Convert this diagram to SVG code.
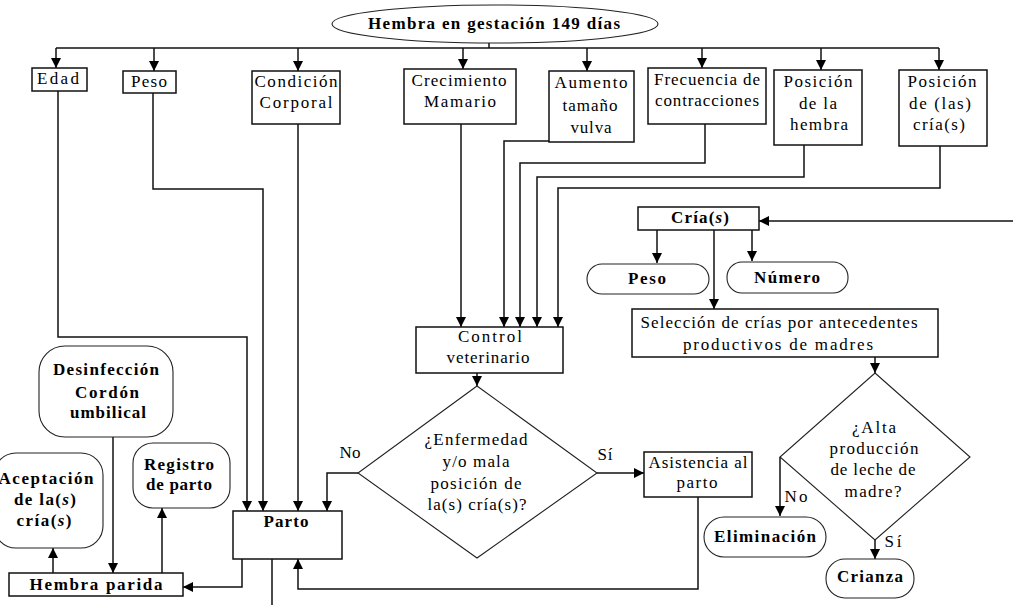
<svg xmlns="http://www.w3.org/2000/svg" width="1013" height="605" viewBox="0 0 1013 605">
  <style>
    .box { fill: #fff; stroke: #111; stroke-width: 1.5; }
    .term { fill: #fff; stroke: #222; stroke-width: 1.1; }
    .dia { fill: #fff; stroke: #222; stroke-width: 1.1; }
    .wire { fill: none; stroke: #111; stroke-width: 1.5; }
    .t { font-family: "Liberation Serif", "Times New Roman", serif; font-size: 17px; text-anchor: middle; fill: #000; }
    .b { font-weight: bold; }
    .i { font-style: italic; }
  </style>
  <defs>
    <marker id="arrow" viewBox="0 0 10 10" refX="10" refY="5" markerWidth="10" markerHeight="10" markerUnits="userSpaceOnUse" orient="auto">
      <path d="M0,0 L10,5 L0,10 z" fill="#000"/>
    </marker>
  </defs>
  <rect width="1013" height="605" fill="#fff"/>

  <!-- connectors -->
  <g id="connectors" class="wire">
    <path d="M489,43 V48"/>
    <path d="M56,48 H939"/>
    <path d="M56,48 V68" marker-end="url(#arrow)"/>
    <path d="M154,48 V71" marker-end="url(#arrow)"/>
    <path d="M298,48 V71" marker-end="url(#arrow)"/>
    <path d="M463,48 V69" marker-end="url(#arrow)"/>
    <path d="M587,48 V71" marker-end="url(#arrow)"/>
    <path d="M702,48 V68" marker-end="url(#arrow)"/>
    <path d="M821,48 V70" marker-end="url(#arrow)"/>
    <path d="M939,48 V70" marker-end="url(#arrow)"/>

    <path d="M58,91 V337 H247 V511" marker-end="url(#arrow)"/>
    <path d="M153,93 V189 H263 V511" marker-end="url(#arrow)"/>
    <path d="M298,124 V511" marker-end="url(#arrow)"/>

    <path d="M461,124 V327" marker-end="url(#arrow)"/>
    <path d="M549,141 H504 V327" marker-end="url(#arrow)"/>
    <path d="M705,124 V163 H520 V327" marker-end="url(#arrow)"/>
    <path d="M804,145 V177 H537 V327" marker-end="url(#arrow)"/>
    <path d="M940,146 V188 H558 V327" marker-end="url(#arrow)"/>

    <path d="M477,373 V386" marker-end="url(#arrow)"/>
    <path d="M358,473 H327 V511" marker-end="url(#arrow)"/>
    <path d="M597,473 H644" marker-end="url(#arrow)"/>
    <path d="M698,497 V589 H298 V559" marker-end="url(#arrow)"/>

    <path d="M242,559 V587 H183" marker-end="url(#arrow)"/>
    <path d="M272,559 V605"/>
    <path d="M113,437 V573" marker-end="url(#arrow)"/>
    <path d="M162,573 V508" marker-end="url(#arrow)"/>
    <path d="M53,573 V548" marker-end="url(#arrow)"/>

    <path d="M1013,221 H759" marker-end="url(#arrow)"/>
    <path d="M657,230 V263" marker-end="url(#arrow)"/>
    <path d="M752,230 V261" marker-end="url(#arrow)"/>
    <path d="M714,230 V309" marker-end="url(#arrow)"/>
    <path d="M875,357 V373" marker-end="url(#arrow)"/>
    <path d="M780,457 V516" marker-end="url(#arrow)"/>
    <path d="M875,540 V559" marker-end="url(#arrow)"/>
  </g>

  <!-- top start node -->
  <g id="hembra-gestacion">
    <ellipse class="term" cx="495" cy="24" rx="163" ry="19"/>
    <text class="t b" x="494" y="29" textLength="252" lengthAdjust="spacing">Hembra en gestación 149 días</text>
  </g>

  <!-- observation boxes -->
  <g id="edad">
    <rect class="box" x="32" y="68" width="55" height="23"/>
    <text class="t" x="58" y="84" textLength="42" lengthAdjust="spacing">Edad</text>
  </g>
  <g id="peso">
    <rect class="box" x="123" y="71" width="53" height="22"/>
    <text class="t" x="149" y="87" textLength="36" lengthAdjust="spacing">Peso</text>
  </g>
  <g id="condicion">
    <rect class="box" x="252" y="71" width="88" height="53"/>
    <text class="t" x="296" y="87" textLength="83" lengthAdjust="spacing">Condición</text>
    <text class="t" x="296" y="108" textLength="73" lengthAdjust="spacing">Corporal</text>
  </g>
  <g id="crecimiento">
    <rect class="box" x="404" y="69" width="112" height="55"/>
    <text class="t" x="459" y="86" textLength="95" lengthAdjust="spacing">Crecimiento</text>
    <text class="t" x="460" y="107" textLength="72" lengthAdjust="spacing">Mamario</text>
  </g>
  <g id="aumento">
    <rect class="box" x="549" y="71" width="85" height="71"/>
    <text class="t" x="591" y="88" textLength="73" lengthAdjust="spacing">Aumento</text>
    <text class="t" x="590" y="111" textLength="55" lengthAdjust="spacing">tamaño</text>
    <text class="t" x="591" y="133" textLength="41" lengthAdjust="spacing">vulva</text>
  </g>
  <g id="frecuencia">
    <rect class="box" x="648" y="68" width="118" height="56"/>
    <text class="t" x="707" y="85" textLength="106" lengthAdjust="spacing">Frecuencia de</text>
    <text class="t" x="707" y="106" textLength="104" lengthAdjust="spacing">contracciones</text>
  </g>
  <g id="posicion-hembra">
    <rect class="box" x="774" y="70" width="88" height="75"/>
    <text class="t" x="818" y="87" textLength="69" lengthAdjust="spacing">Posición</text>
    <text class="t" x="818" y="109" textLength="38" lengthAdjust="spacing">de la</text>
    <text class="t" x="819" y="130" textLength="58" lengthAdjust="spacing">hembra</text>
  </g>
  <g id="posicion-crias">
    <rect class="box" x="899" y="70" width="88" height="76"/>
    <text class="t" x="942" y="87" textLength="69" lengthAdjust="spacing">Posición</text>
    <text class="t" x="940" y="109" textLength="62" lengthAdjust="spacing">de (las)</text>
    <text class="t" x="939" y="130" textLength="52" lengthAdjust="spacing">cría(s)</text>
  </g>

  <!-- veterinary control and decision -->
  <g id="control">
    <rect class="box" x="416" y="327" width="147" height="46"/>
    <text class="t" x="490" y="342" textLength="64" lengthAdjust="spacing">Control</text>
    <text class="t" x="488" y="363" textLength="83" lengthAdjust="spacing">veterinario</text>
  </g>
  <g id="enfermedad">
    <polygon class="dia" points="477,386 597,473 477,558 358,473"/>
    <text class="t" x="476" y="445" textLength="103" lengthAdjust="spacing">¿Enfermedad</text>
    <text class="t" x="476" y="467" textLength="67" lengthAdjust="spacing">y/o mala</text>
    <text class="t" x="476" y="489" textLength="91" lengthAdjust="spacing">posición de</text>
    <text class="t" x="477" y="510" textLength="99" lengthAdjust="spacing">la(s) cría(s)?</text>
  </g>
  <g id="labels-enfermedad">
    <text class="t" x="350" y="458" textLength="21" lengthAdjust="spacing">No</text>
    <text class="t" x="605" y="460" textLength="15" lengthAdjust="spacing">Sí</text>
  </g>
  <g id="asistencia">
    <rect class="box" x="644" y="452" width="108" height="45"/>
    <text class="t" x="698" y="468" textLength="99" lengthAdjust="spacing">Asistencia al</text>
    <text class="t" x="697" y="488" textLength="41" lengthAdjust="spacing">parto</text>
  </g>

  <!-- birth and post-partum -->
  <g id="parto">
    <rect class="box" x="233" y="511" width="109" height="48"/>
    <text class="t b" x="286" y="527" textLength="45" lengthAdjust="spacing">Parto</text>
  </g>
  <g id="hembra-parida">
    <rect class="box" x="9" y="573" width="174" height="23"/>
    <text class="t b" x="96" y="590" textLength="133" lengthAdjust="spacing">Hembra parida</text>
  </g>
  <g id="desinfeccion">
    <rect class="term" x="39" y="346" width="134" height="91" rx="26" ry="26"/>
    <text class="t b" x="106" y="375" textLength="106" lengthAdjust="spacing">Desinfección</text>
    <text class="t b" x="107" y="398" textLength="64" lengthAdjust="spacing">Cordón</text>
    <text class="t b" x="108" y="418" textLength="76" lengthAdjust="spacing">umbilical</text>
  </g>
  <g id="registro">
    <rect class="term" x="133" y="443" width="97" height="65" rx="20" ry="20"/>
    <text class="t b" x="179" y="470" textLength="70" lengthAdjust="spacing">Registro</text>
    <text class="t b" x="179" y="490" textLength="66" lengthAdjust="spacing">de parto</text>
  </g>
  <g id="aceptacion">
    <rect class="term" x="-6" y="453" width="109" height="95" rx="22" ry="22"/>
    <text class="t b" x="46" y="484" textLength="95" lengthAdjust="spacing">Aceptación</text>
    <text class="t b" x="45" y="505" textLength="62" lengthAdjust="spacing">de la(<tspan class="i">s</tspan>)</text>
    <text class="t b" x="44" y="526" textLength="55" lengthAdjust="spacing">cría(<tspan class="i">s</tspan>)</text>
  </g>

  <!-- offspring branch -->
  <g id="crias">
    <rect class="box" x="638" y="207" width="121" height="23"/>
    <text class="t b" x="700" y="223" textLength="58" lengthAdjust="spacing">Cría(<tspan class="i">s</tspan>)</text>
  </g>
  <g id="peso-crias">
    <rect class="term" x="587" y="264" width="122" height="30" rx="15" ry="15"/>
    <text class="t b" x="647" y="284" textLength="38" lengthAdjust="spacing">Peso</text>
  </g>
  <g id="numero">
    <rect class="term" x="727" y="262" width="121" height="31" rx="15" ry="15"/>
    <text class="t b" x="787" y="283" textLength="66" lengthAdjust="spacing">Número</text>
  </g>
  <g id="seleccion">
    <rect class="box" x="632" y="309" width="306" height="48"/>
    <text class="t" x="779" y="328" textLength="277" lengthAdjust="spacing">Selección de crías por antecedentes</text>
    <text class="t" x="778" y="350" textLength="190" lengthAdjust="spacing">productivos de madres</text>
  </g>
  <g id="alta-produccion">
    <polygon class="dia" points="875,373 970,457 875,540 780,457"/>
    <text class="t" x="874" y="433" textLength="44" lengthAdjust="spacing">¿Alta</text>
    <text class="t" x="874" y="454" textLength="89" lengthAdjust="spacing">producción</text>
    <text class="t" x="873" y="475" textLength="85" lengthAdjust="spacing">de leche de</text>
    <text class="t" x="873" y="497" textLength="57" lengthAdjust="spacing">madre?</text>
  </g>
  <g id="labels-alta">
    <text class="t" x="796" y="502" textLength="23" lengthAdjust="spacing">No</text>
    <text class="t" x="893" y="547" textLength="17" lengthAdjust="spacing">Sí</text>
  </g>
  <g id="eliminacion">
    <rect class="term" x="704" y="517" width="122" height="40" rx="20" ry="20"/>
    <text class="t b" x="765" y="542" textLength="102" lengthAdjust="spacing">Eliminación</text>
  </g>
  <g id="crianza">
    <rect class="term" x="826" y="559" width="88" height="39" rx="19" ry="19"/>
    <text class="t b" x="870" y="582" textLength="66" lengthAdjust="spacing">Crianza</text>
  </g>
</svg>
